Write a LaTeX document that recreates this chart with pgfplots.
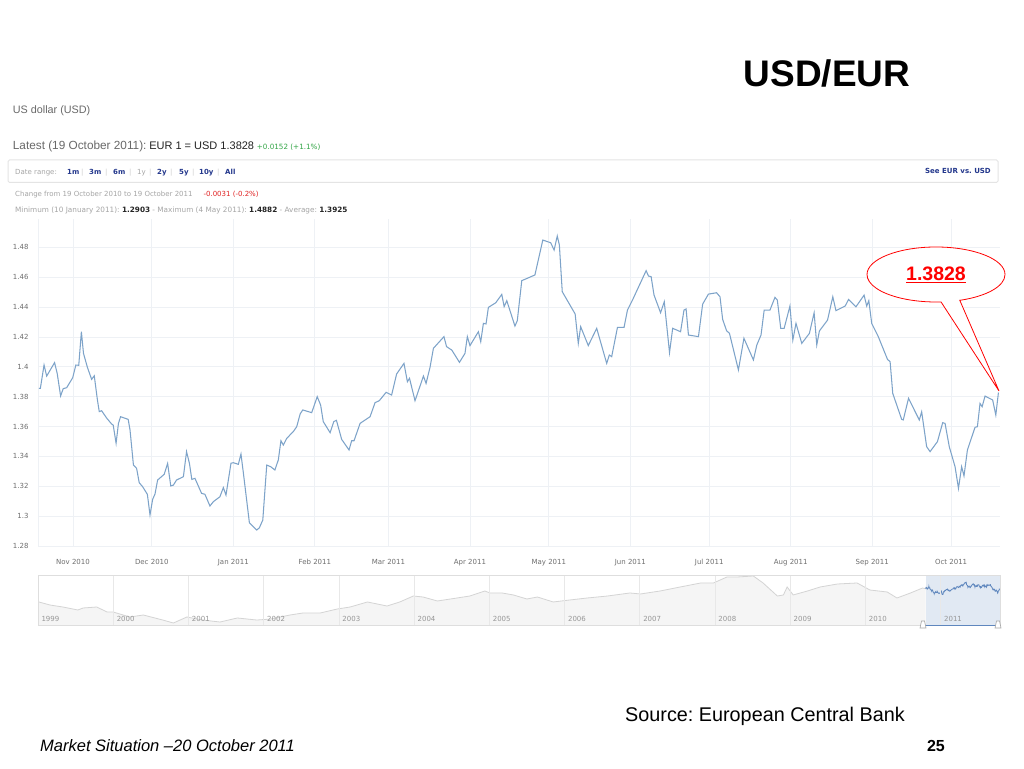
\documentclass[border=0pt]{standalone}
\usepackage{fontspec}
\setmainfont{Liberation Sans}
\newfontfamily\dv{DejaVu Sans}
\usepackage{pgfplots}
\pgfplotsset{compat=1.18}
\usepackage{pgfplotstable}
\usetikzlibrary{shapes.callouts}
\frenchspacing

\definecolor{linecol}{RGB}{125,163,201}
\definecolor{gridc}{RGB}{238,241,245}
\definecolor{tickgray}{RGB}{110,110,110}
\definecolor{navborder}{RGB}{222,222,222}
\definecolor{navgrid}{RGB}{232,232,232}
\definecolor{navline}{RGB}{212,212,212}
\definecolor{navfill}{RGB}{245,245,245}
\definecolor{navtext}{RGB}{150,150,150}
\definecolor{selfill}{RGB}{222,231,242}
\definecolor{selline}{RGB}{95,135,190}
\definecolor{linkblue}{RGB}{35,55,140}
\definecolor{txtgray}{RGB}{105,105,105}
\definecolor{ltgray}{RGB}{165,165,165}
\definecolor{sepgray}{RGB}{205,205,205}
\definecolor{greenc}{RGB}{50,165,70}
\definecolor{redc}{RGB}{225,35,35}
\definecolor{boxc}{RGB}{228,228,228}
\definecolor{darkt}{RGB}{35,35,35}

\pgfplotstableread{
d v
0 1.3856
0.6 1.3856
2 1.4012
3 1.3938
6 1.4028
7 1.3956
8.3 1.3805
9.3 1.3854
10.6 1.386
12.9 1.3927
14.1 1.4012
15.2 1.401
16.2 1.4235
17 1.409
18.5 1.3996
20.1 1.3916
21.1 1.394
22.3 1.3778
23 1.37
23.9 1.3706
25.8 1.3657
27.7 1.3617
28.3 1.361
29.4 1.3488
30.3 1.3621
31.1 1.3666
34 1.3648
34.7 1.3577
36 1.3342
37.2 1.332
38.2 1.3224
39.5 1.3197
41.3 1.3146
42.3 1.3008
43.3 1.3112
44.2 1.3148
45.2 1.3242
47.7 1.328
49 1.3353
50.2 1.3202
51.2 1.3208
52.4 1.3242
55 1.3264
56.2 1.3432
57.3 1.3353
58.2 1.3246
59.4 1.3253
61.9 1.3153
63.2 1.3146
65.1 1.3068
66.4 1.3097
68.9 1.313
70.2 1.3191
71.2 1.3141
73.1 1.3354
74 1.3358
75.9 1.3347
76.9 1.3416
77.8 1.3291
80.1 1.2956
82.9 1.2907
83.9 1.2922
85.2 1.2974
86.7 1.3342
88.2 1.3331
89.8 1.3309
91.1 1.3376
92.1 1.3505
93 1.3476
94.3 1.3521
96.8 1.3566
98.1 1.3599
99.4 1.3684
100.4 1.3711
103.8 1.3693
105.9 1.38
107.2 1.3744
108.2 1.3633
110.8 1.3559
112.2 1.3633
113.2 1.3642
115.2 1.3514
118 1.3443
119 1.3505
119.9 1.3505
122.2 1.3621
126 1.3666
127.9 1.376
129.5 1.3773
132.1 1.3829
134.2 1.3811
136.1 1.3952
138.9 1.4023
140.2 1.39
141 1.3923
143.1 1.3773
146.3 1.3938
147.3 1.3889
148.8 1.3996
150.1 1.4124
154.1 1.4202
155.1 1.4135
157.1 1.4112
160 1.403
162.1 1.409
163 1.4202
164 1.4142
167.2 1.4235
168.1 1.4168
169.1 1.4291
170.1 1.4287
171 1.4398
173.8 1.4429
176.1 1.4485
177 1.4403
178 1.4443
181.1 1.4273
182 1.4309
183.7 1.4577
188.7 1.4615
191.7 1.4849
194.7 1.4831
196 1.4782
197.2 1.4876
198 1.4816
199.1 1.4503
204 1.4354
205.2 1.4157
206.1 1.4269
209 1.4142
212.2 1.4258
216 1.4023
217 1.4079
217.9 1.4068
220.1 1.4264
222.6 1.4264
223.9 1.438
226.1 1.4458
231 1.4644
231.9 1.4608
232.9 1.4604
234 1.4481
236.5 1.4362
237.9 1.4436
239.9 1.4095
241.1 1.4258
244.1 1.4235
245.4 1.438
246.2 1.4387
247.1 1.4213
250.9 1.4202
252.5 1.442
254.7 1.4487
257.8 1.4496
259.1 1.4469
260.1 1.4318
261.6 1.4242
262.7 1.4224
266.1 1.3979
268.2 1.4191
271.8 1.4046
273.1 1.4146
274.7 1.4213
275.9 1.438
278.1 1.438
280 1.4465
280.9 1.4447
282.2 1.4258
283.5 1.4258
285.7 1.4407
286.8 1.4179
288 1.4291
290.2 1.4157
293.1 1.4224
294.9 1.4362
295.9 1.4146
296.9 1.424
300 1.4313
302 1.4469
303.2 1.4376
306.7 1.4407
308 1.4451
310.8 1.4402
313.9 1.448
314.9 1.4407
315.7 1.4443
316.8 1.4291
319.3 1.4202
322.8 1.405
323.8 1.4034
324.8 1.3822
328.2 1.3648
328.8 1.3644
330.8 1.3789
334.9 1.3644
335.8 1.3699
337.7 1.3465
339 1.3432
341.8 1.3499
343.8 1.3626
344.7 1.3621
346.3 1.3465
348.5 1.3331
349.8 1.3186
351 1.3331
351.9 1.3269
353.2 1.3443
356.1 1.3595
357 1.3599
358 1.3755
358.8 1.3733
359.9 1.3804
362.8 1.3778
364 1.3677
365 1.3828
}\maindata

\pgfplotstableread{
yr r
1999.00 1.175
1999.16 1.122
1999.33 1.090
1999.53 1.042
1999.60 1.074
1999.78 1.090
1999.92 1.009
2000.00 1.009
2000.22 0.929
2000.40 0.961
2000.66 0.880
2000.80 0.832
2000.98 0.929
2001.19 0.880
2001.42 0.848
2001.65 0.913
2001.91 0.880
2002.09 0.896
2002.35 0.961
2002.52 0.993
2002.75 0.993
2002.98 1.058
2003.15 1.090
2003.38 1.171
2003.64 1.106
2003.81 1.171
2003.99 1.267
2004.12 1.251
2004.31 1.187
2004.57 1.235
2004.74 1.267
2004.94 1.348
2005.01 1.316
2005.17 1.316
2005.32 1.284
2005.50 1.219
2005.64 1.251
2005.85 1.171
2006.07 1.203
2006.30 1.235
2006.57 1.267
2006.87 1.316
2007.01 1.300
2007.27 1.348
2007.54 1.413
2007.81 1.477
2007.98 1.477
2008.16 1.574
2008.30 1.574
2008.51 1.590
2008.64 1.477
2008.83 1.267
2008.91 1.284
2008.96 1.413
2009.04 1.284
2009.23 1.348
2009.40 1.413
2009.63 1.461
2009.89 1.477
2010.06 1.364
2010.29 1.332
2010.42 1.235
2010.60 1.316
2010.76 1.396
2010.80 1.386
}\navdata

\begin{document}
\begin{tikzpicture}[x=1pt,y=1pt]
\useasboundingbox (0,0) rectangle (1024,768);
\fill[white] (0,0) rectangle (1024,768);

% title
\node[inner sep=0pt] at (827,694.5) {\fontsize{37}{40}\selectfont\bfseries USD/EUR};

% header texts
\node[anchor=west,inner sep=0pt,text=txtgray] at (12.7,657) {\fontsize{10.8}{12}\selectfont US dollar (USD)};
\node[anchor=west,inner sep=0pt] at (12.7,621.3) {{\fontsize{11.8}{13}\selectfont\color{txtgray}Latest (19 October 2011):} {\fontsize{11}{13}\selectfont\color{darkt}EUR 1 = USD 1.3828} {\dv\fontsize{7.2}{8}\selectfont\color{greenc}+0.0152 (+1.1\%)}};

\draw[boxc,line width=1pt,rounded corners=1.5pt] (8,608) rectangle (998,585.5);
\begin{scope}[every node/.style={anchor=west,inner sep=0pt,font=\dv\fontsize{7}{8}\selectfont}]
\node[text=ltgray] at (15,595.7) {Date range:};
\node[text=linkblue,font=\dv\bfseries\fontsize{7}{8}\selectfont] at (67,595.7) {1m};
\node[text=sepgray] at (81,595.7) {|};
\node[text=linkblue,font=\dv\bfseries\fontsize{7}{8}\selectfont] at (89,595.7) {3m};
\node[text=sepgray] at (105,595.7) {|};
\node[text=linkblue,font=\dv\bfseries\fontsize{7}{8}\selectfont] at (113,595.7) {6m};
\node[text=sepgray] at (129,595.7) {|};
\node[text=ltgray] at (137,595.7) {1y};
\node[text=sepgray] at (149,595.7) {|};
\node[text=linkblue,font=\dv\bfseries\fontsize{7}{8}\selectfont] at (157,595.7) {2y};
\node[text=sepgray] at (170,595.7) {|};
\node[text=linkblue,font=\dv\bfseries\fontsize{7}{8}\selectfont] at (179,595.7) {5y};
\node[text=sepgray] at (192,595.7) {|};
\node[text=linkblue,font=\dv\bfseries\fontsize{7}{8}\selectfont] at (199,595.7) {10y};
\node[text=sepgray] at (217,595.7) {|};
\node[text=linkblue,font=\dv\bfseries\fontsize{7}{8}\selectfont] at (225,595.7) {All};
\node[text=linkblue,font=\dv\bfseries\fontsize{7}{8}\selectfont,anchor=east] at (991,597) {See EUR vs. USD};
\node[text=ltgray] at (15,573) {Change from 19 October 2010 to 19 October 2011\hspace{11pt}{\color{redc}-0.0031 (-0.2\%)}};
\node[text=ltgray,font=\dv\fontsize{7.3}{8}\selectfont] at (15,558) {Minimum (10 January 2011): {\color{darkt}\bfseries 1.2903} - Maximum (4 May 2011): {\color{darkt}\bfseries 1.4882} - Average: {\color{darkt}\bfseries 1.3925}};
\end{scope}

% main chart
\begin{axis}[
  at={(38pt,222pt)}, anchor=south west, scale only axis,
  width=962pt, height=327pt,
  xmin=-0.3, xmax=365.6, ymin=1.28, ymax=1.499,
  axis line style={draw=none},
  major tick length=0pt,
  xtick={13,43,74,105,133,164,194,225,255,286,317,347},
  xticklabels={Nov 2010,Dec 2010,Jan 2011,Feb 2011,Mar 2011,Apr 2011,May 2011,Jun 2011,Jul 2011,Aug 2011,Sep 2011,Oct 2011},
  ytick={1.28,1.3,1.32,1.34,1.36,1.38,1.4,1.42,1.44,1.46,1.48},
  yticklabels={1.28,1.3,1.32,1.34,1.36,1.38,1.4,1.42,1.44,1.46,1.48},
  extra x ticks={-0.3}, extra x tick labels={}, extra x tick style={grid=major},
  grid=major, grid style={draw=gridc, line width=0.9pt},
  tick label style={font=\dv\fontsize{7}{8}\selectfont, text=tickgray},
  xticklabel style={yshift=-10pt},
  yticklabel style={xshift=-6pt},
]
\addplot[line width=1.05pt, color=linecol] table[x=d,y=v]{\maindata};
\end{axis}

% navigator
\begin{axis}[
  at={(38pt,143pt)}, anchor=south west, scale only axis,
  width=962pt, height=50pt,
  xmin=1999, xmax=2011.79, ymin=0.80, ymax=1.606,
  axis on top,
  axis line style={draw=navborder},
  major tick length=0pt, ytick=\empty,
  xtick={1999,2000,2001,2002,2003,2004,2005,2006,2007,2008,2009,2010,2011},
  xticklabels={1999,2000,2001,2002,2003,2004,2005,2006,2007,2008,2009,2010,2011},
  xmajorgrids, grid style={draw=navgrid, line width=0.6pt},
  xticklabel style={anchor=base west, yshift=3.5pt, font=\dv\fontsize{7}{8}\selectfont, text=navtext},
]
\addplot[draw=none, fill=navfill] table[x=yr,y=r]{\navdata} \closedcycle;
\addplot[draw=navline, line width=0.8pt] table[x=yr,y=r]{\navdata};
\fill[selfill, opacity=0.9] (axis cs:2010.8,0.80) rectangle (axis cs:2011.79,1.606);
\addplot[draw=selline, line width=0.8pt] table[x expr=2010.8+\thisrow{d}/365.25, y=v]{\maindata};
\end{axis}
% navigator handles
\draw[selline, line width=0.8pt] (923,143) -- (998,143);
\draw[ltgray, fill=white, line width=0.6pt] (920,140) -- (926,140) -- (924.5,147) -- (921.5,147) -- cycle;
\draw[ltgray, fill=white, line width=0.6pt] (995,140) -- (1001,140) -- (999.5,147) -- (996.5,147) -- cycle;

% callout
\node[ellipse callout, draw=red, fill=white, line width=0.8pt, minimum width=138pt, minimum height=55pt, inner sep=0pt, callout absolute pointer={(999,377)}, callout pointer arc=16] at (936,493.5) {\fontsize{19.5}{22}\selectfont\bfseries\color{red}\underline{1.3828}};

% footer
\node[anchor=west,inner sep=0pt] at (625,52) {\fontsize{19.8}{22}\selectfont Source: European Central Bank};
\node[anchor=west,inner sep=0pt] at (40,22) {\fontsize{16.5}{18}\selectfont\itshape Market Situation \textendash20 October 2011};
\node[anchor=east,inner sep=0pt] at (945,22) {\fontsize{16}{18}\selectfont\bfseries 25};
\end{tikzpicture}
\end{document}
